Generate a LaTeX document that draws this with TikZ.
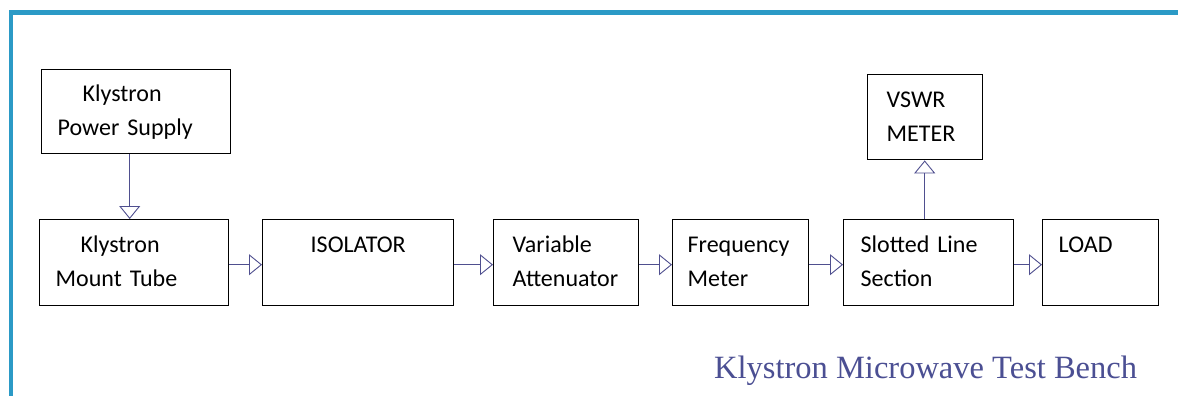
\documentclass[tikz,border=0pt]{standalone}
\usepackage{fontspec}
\setmainfont{Carlito}[WordSpace=0.75]
\newfontfamily\titlefont{Liberation Serif}
\usetikzlibrary{arrows.meta}
\definecolor{frameblue}{HTML}{2B9AC6}
\definecolor{arrowblue}{HTML}{4F4F8F}
\definecolor{titleblue}{HTML}{4B4F93}
\tikzset{
  blk/.style={draw=black, line width=1.4pt, anchor=north west, inner ysep=0pt,
    inner xsep=16pt, align=left, font=\fontsize{24}{34}\selectfont,
    text height=32pt},
  arr/.style={draw=arrowblue, line width=0.9pt,
    -{Triangle[open, length=13pt, width=21pt, line width=0.9pt]}},
}
\begin{document}
\begin{tikzpicture}[x=1pt, y=-1pt]
\useasboundingbox (0,0) rectangle (1178,396);
\fill[white] (0,0) rectangle (1178,396);
% frame
\draw[frameblue, line width=4.2pt] (11.3,396) -- (11.3,12.5) -- (1178,12.5);
% boxes
\node[blk, text width=157pt, text depth=52pt] (kps) at (41,69) {\hspace*{25pt}Klystron\\Power Supply};
\node[blk, text width=157pt, text depth=53pt, text height=33pt] (kmt) at (39,219) {\hspace*{25pt}Klystron\\Mount Tube};
\node[blk, text width=159pt, text depth=53pt, text height=33pt, align=center] (iso) at (262,219) {ISOLATOR};
\node[blk, text width=107pt, inner xsep=19pt, text depth=53pt, text height=33pt] (va) at (493,219) {Variable\\Attenuator};
\node[blk, text width=106pt, inner xsep=15pt, text depth=53pt, text height=33pt] (fm) at (672,219) {Frequency\\Meter};
\node[blk, text width=136pt, inner xsep=17pt, text depth=53pt, text height=33pt] (sls) at (843,219) {Slotted Line\\Section};
\node[blk, text width=84pt, inner xsep=16pt, text depth=53pt, text height=33pt] (load) at (1042,219) {LOAD};
\node[blk, text width=77pt, inner xsep=19pt, text depth=52pt, text height=33pt] (vswr) at (867,74) {VSWR\\METER};
% connectors
\draw[arr] ([xshift=-6.5pt]kps.south) -- ([xshift=-4.5pt]kmt.north);
\draw[arr] ([yshift=-2pt]kmt.east) -- ([yshift=-2pt]iso.west);
\draw[arr] ([yshift=-2pt]iso.east) -- ([yshift=-2pt]va.west);
\draw[arr] ([yshift=-2pt]va.east) -- ([yshift=-2pt]fm.west);
\draw[arr] ([yshift=-2pt]fm.east) -- ([yshift=-2pt]sls.west);
\draw[arr] ([yshift=-2pt]sls.east) -- ([yshift=-2pt]load.west);
\draw[arr] ([xshift=-4pt]sls.north) -- ([xshift=-0.5pt]vswr.south);
% title
\node[anchor=base west, inner sep=0pt, text=titleblue, font=\titlefont\fontsize{32.5}{36}\selectfont] (title) at (714,378) {Klystron Microwave Test Bench};
\end{tikzpicture}
\end{document}
